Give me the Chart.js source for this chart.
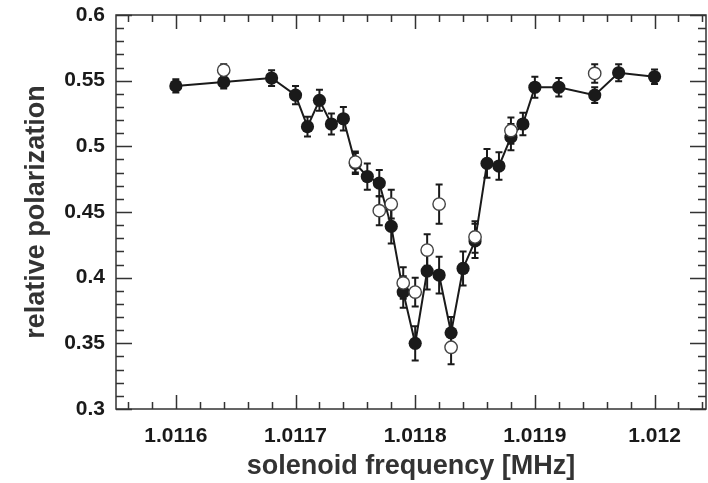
<!DOCTYPE html>
<html lang="en">
<head>
  <meta charset="UTF-8">
  <title>relative polarization vs solenoid frequency</title>
  <script src="https://cdn.jsdelivr.net/npm/chart.js"></script>
  <style>
    * { margin: 0; padding: 0; box-sizing: border-box; }
    body { background: #fff; width: 708px; height: 483px; overflow: hidden; }
    canvas { display: block; }
  </style>
</head>
<body>
  <canvas id="chart" width="708" height="483"></canvas>

  <script>
    // filled points (connected by the line)
    const freqFilled = [1.0116, 1.01164, 1.01168, 1.0117, 1.01171, 1.01172, 1.01173, 1.01174, 1.01175, 1.01176,
      1.01177, 1.01178, 1.01179, 1.0118, 1.01181, 1.01182, 1.01183, 1.01184, 1.01185, 1.01186,
      1.01187, 1.01188, 1.01189, 1.0119, 1.01192, 1.01195, 1.01197, 1.012];
    const polFilled = [0.546, 0.549, 0.552, 0.539, 0.515, 0.535, 0.517, 0.521, 0.487, 0.477,
      0.472, 0.439, 0.389, 0.350, 0.405, 0.402, 0.358, 0.407, 0.428, 0.487,
      0.485, 0.507, 0.517, 0.545, 0.545, 0.539, 0.556, 0.553];
    const errFilled = [0.005, 0.005, 0.006, 0.007, 0.0075, 0.008, 0.008, 0.009, 0.008, 0.010,
      0.010, 0.013, 0.012, 0.013, 0.014, 0.014, 0.012, 0.013, 0.013, 0.011,
      0.0105, 0.010, 0.0085, 0.008, 0.007, 0.006, 0.0065, 0.0055];

    // open points
    const freqOpen = [1.01164, 1.01175, 1.01177, 1.01178, 1.01179, 1.0118, 1.01181, 1.01182, 1.01183, 1.01185, 1.01188, 1.01195];
    const polOpen = [0.558, 0.488, 0.451, 0.456, 0.396, 0.389, 0.421, 0.456, 0.347, 0.431, 0.512, 0.5555];
    const errOpen = [0.0045, 0.008, 0.011, 0.011, 0.012, 0.011, 0.012, 0.015, 0.013, 0.012, 0.010, 0.007];

    const xTicks = [1.0116, 1.0117, 1.0118, 1.0119, 1.012];
    const xTickLabels = ['1.0116', '1.0117', '1.0118', '1.0119', '1.012'];
    const yTicks = [0.3, 0.35, 0.4, 0.45, 0.5, 0.55, 0.6];
    const yTickLabels = ['0.3', '0.35', '0.4', '0.45', '0.5', '0.55', '0.6'];

    const ink = '#1a1a1a';

    const toPoints = (xs, ys, es) => xs.map((x, i) => ({ x: x, y: ys[i], err: es[i] }));

    // vertical error bars with caps, drawn under the markers
    const errorBars = {
      id: 'errorBars',
      beforeDatasetsDraw(chart) {
        const { ctx, scales: { x, y } } = chart;
        ctx.save();
        ctx.strokeStyle = ink;
        ctx.lineWidth = 2;
        chart.data.datasets.forEach(ds => {
          ds.data.forEach(p => {
            const px = x.getPixelForValue(p.x);
            const top = y.getPixelForValue(p.y + p.err);
            const bot = y.getPixelForValue(p.y - p.err);
            ctx.beginPath();
            ctx.moveTo(px, top); ctx.lineTo(px, bot);
            ctx.moveTo(px - 3.5, top); ctx.lineTo(px + 3.5, top);
            ctx.moveTo(px - 3.5, bot); ctx.lineTo(px + 3.5, bot);
            ctx.stroke();
          });
        });
        ctx.restore();
      }
    };

    // frame with inward major/minor ticks on all sides
    const frame = {
      id: 'frame',
      afterDraw(chart) {
        const { ctx, chartArea: a, scales: { x, y } } = chart;
        ctx.save();
        ctx.strokeStyle = '#333';
        ctx.lineWidth = 1.5;
        ctx.strokeRect(a.left, a.top, a.right - a.left, a.bottom - a.top);
        ctx.beginPath();
        for (let i = Math.ceil(x.min / 0.00002 - 1e-6); i * 0.00002 <= x.max + 1e-9; i++) {
          const v = i * 0.00002;
          const major = i % 5 === 0;
          const len = major ? 14 : 7;
          const px = Math.round(x.getPixelForValue(v)) + 0.5;
          ctx.moveTo(px, a.bottom); ctx.lineTo(px, a.bottom - len);
          ctx.moveTo(px, a.top); ctx.lineTo(px, a.top + len);
        }
        for (let i = 30; i <= 60; i++) {
          const v = i / 100;
          const major = i % 5 === 0;
          const len = major ? 16 : 8;
          const py = Math.round(y.getPixelForValue(v)) + 0.5;
          ctx.moveTo(a.left, py); ctx.lineTo(a.left + len, py);
          ctx.moveTo(a.right, py); ctx.lineTo(a.right - len, py);
        }
        ctx.stroke();
        ctx.restore();
      }
    };

    new Chart(document.getElementById('chart'), {
      type: 'scatter',
      data: {
        datasets: [
          {
            label: 'filled',
            data: toPoints(freqFilled, polFilled, errFilled),
            showLine: true,
            borderColor: ink,
            borderWidth: 2,
            pointRadius: 6.6,
            pointBackgroundColor: ink,
            pointBorderColor: ink,
            pointBorderWidth: 0,
            order: 2
          },
          {
            label: 'open',
            data: toPoints(freqOpen, polOpen, errOpen),
            showLine: false,
            pointRadius: 6.2,
            pointBackgroundColor: '#fff',
            pointBorderColor: '#444',
            pointBorderWidth: 1.4,
            order: 1
          }
        ]
      },
      options: {
        responsive: false,
        animation: false,
        devicePixelRatio: 1,
        layout: { autoPadding: false, padding: { top: 15, right: 2, left: 0, bottom: 0 } },
        plugins: { legend: { display: false }, tooltip: { enabled: false } },
        scales: {
          x: {
            type: 'linear',
            min: 1.01155,
            max: 1.012043,
            afterBuildTicks: s => { s.ticks = xTicks.map(v => ({ value: v })); },
            afterFit: s => { s.height = 74; s.paddingLeft = 0; s.paddingRight = 0; },
            grid: { display: false, drawTicks: false },
            border: { display: false },
            ticks: {
              color: ink,
              padding: 15,
              autoSkip: false,
              maxRotation: 0,
              font: { family: 'Liberation Sans', size: 21, weight: 'bold' },
              callback: v => xTickLabels[xTicks.indexOf(v)] ?? ''
            },
            title: {
              display: true,
              text: 'solenoid frequency [MHz]',
              color: '#333',
              padding: { top: 0, bottom: 0 },
              font: { family: 'Liberation Sans', size: 27, weight: 'bold' }
            }
          },
          y: {
            min: 0.3,
            max: 0.6,
            afterBuildTicks: s => { s.ticks = yTicks.map(v => ({ value: v })); },
            afterFit: s => { s.width = 116; s.paddingTop = 0; s.paddingBottom = 0; },
            grid: { display: false, drawTicks: false },
            border: { display: false },
            ticks: {
              color: ink,
              padding: 11,
              autoSkip: false,
              font: { family: 'Liberation Sans', size: 21, weight: 'bold' },
              callback: v => yTickLabels[yTicks.indexOf(v)] ?? ''
            },
            title: {
              display: true,
              text: 'relative polarization',
              color: '#333',
              padding: { top: 20, bottom: 0 },
              font: { family: 'Liberation Sans', size: 27, weight: 'bold' }
            }
          }
        }
      },
      plugins: [errorBars, frame]
    });
  </script>
</body>
</html>
